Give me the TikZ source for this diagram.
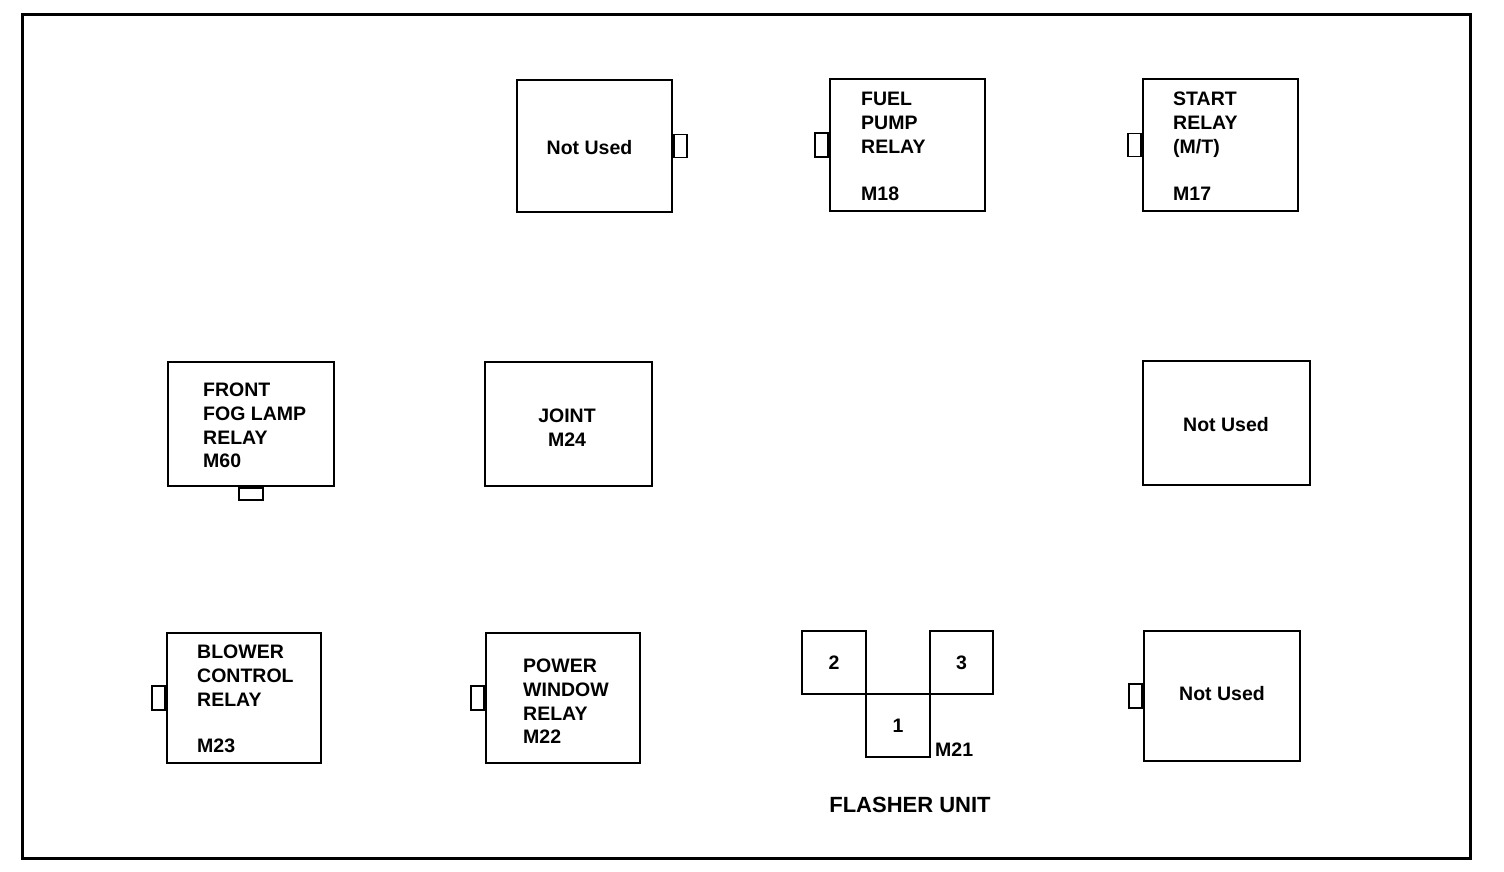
\documentclass[tikz,border=0pt]{standalone}
\usepackage{fontspec}
\setmainfont{Liberation Sans}
\usetikzlibrary{positioning}

\tikzset{
  relaybox/.style={draw, line width=2pt, inner sep=0pt},
  tabbox/.style={draw, line width=1.6pt, fill=white, inner sep=0pt},
  lbl/.style={font=\fontsize{19.5}{23.7}\selectfont\bfseries, inner sep=0pt},
}

\begin{document}
\begin{tikzpicture}[x=1pt, y=-1pt]
  \useasboundingbox (0,0) rectangle (1504,872);
  \draw[line width=3pt] (22,15) rectangle (1470,858);

  % Top row
  \node[relaybox, minimum width=155, minimum height=132] (nu1) at (594.5,146) {};
  \node[tabbox, minimum width=13, minimum height=23, anchor=west] (nu1tab) at (nu1.east) {};
  \node[lbl] (nu1txt) at (589.5,148) {Not Used};

  \node[relaybox, minimum width=155, minimum height=132] (fuel) at (907.5,145) {};
  \node[tabbox, minimum width=13, minimum height=24, anchor=east] (fueltab) at (fuel.west) {};
  \node[lbl, align=left, anchor=north west] (fueltxt) at (861,92) {FUEL\\PUMP\\RELAY};
  \node[lbl, anchor=north west] (fuelcode) at (861,187) {M18};

  \node[relaybox, minimum width=155, minimum height=132] (start) at (1220.5,145) {};
  \node[tabbox, minimum width=13, minimum height=23, anchor=east] (starttab) at (start.west) {};
  \node[lbl, align=left, anchor=north west] (starttxt) at (1173,92) {START\\RELAY\\(M/T)};
  \node[lbl, anchor=north west] (startcode) at (1173,187) {M17};

  % Middle row
  \node[relaybox, minimum width=166, minimum height=124] (fog) at (251,424) {};
  \node[tabbox, minimum width=24, minimum height=12, anchor=north] (fogtab) at (fog.south) {};
  \node[lbl, align=left, anchor=north west] (fogtxt) at (203,383) {FRONT\\FOG LAMP\\RELAY\\M60};

  \node[relaybox, minimum width=167, minimum height=124] (joint) at (568.5,424) {};
  \node[lbl, align=center, anchor=north] (jointtxt) at (567,409) {JOINT\\M24};

  \node[relaybox, minimum width=167, minimum height=124] (nu2) at (1226.5,423) {};
  \node[lbl] (nu2txt) at (1226,425) {Not Used};

  % Bottom row
  \node[relaybox, minimum width=154, minimum height=130] (blower) at (244,698) {};
  \node[tabbox, minimum width=13, minimum height=24, anchor=east] (blowertab) at (blower.west) {};
  \node[lbl, align=left, anchor=north west] (blowertxt) at (197,645) {BLOWER\\CONTROL\\RELAY};
  \node[lbl, anchor=north west] (blowercode) at (197,739) {M23};

  \node[relaybox, minimum width=154, minimum height=130] (window) at (563,698) {};
  \node[tabbox, minimum width=13, minimum height=24, anchor=east] (windowtab) at (window.west) {};
  \node[lbl, align=left, anchor=north west] (windowtxt) at (523,659) {POWER\\WINDOW\\RELAY\\M22};

  % Flasher unit
  \node[relaybox, minimum width=64, minimum height=63, lbl] (pin2) at (834,662.5) {2};
  \node[relaybox, minimum width=63, minimum height=63, lbl] (pin3) at (961.5,662.5) {3};
  \node[relaybox, minimum width=64, minimum height=63, lbl] (pin1) at (898,725.5) {1};
  \node[lbl, anchor=north west] (flashcode) at (935,743) {M21};
  \node[lbl, font=\fontsize{22}{26}\selectfont\bfseries] (flashtxt) at (910,805) {FLASHER UNIT};

  \node[relaybox, minimum width=156, minimum height=130] (nu3) at (1222,696) {};
  \node[tabbox, minimum width=13, minimum height=24, anchor=east] (nu3tab) at (nu3.west) {};
  \node[lbl] (nu3txt) at (1222,694) {Not Used};

\end{tikzpicture}
\end{document}
